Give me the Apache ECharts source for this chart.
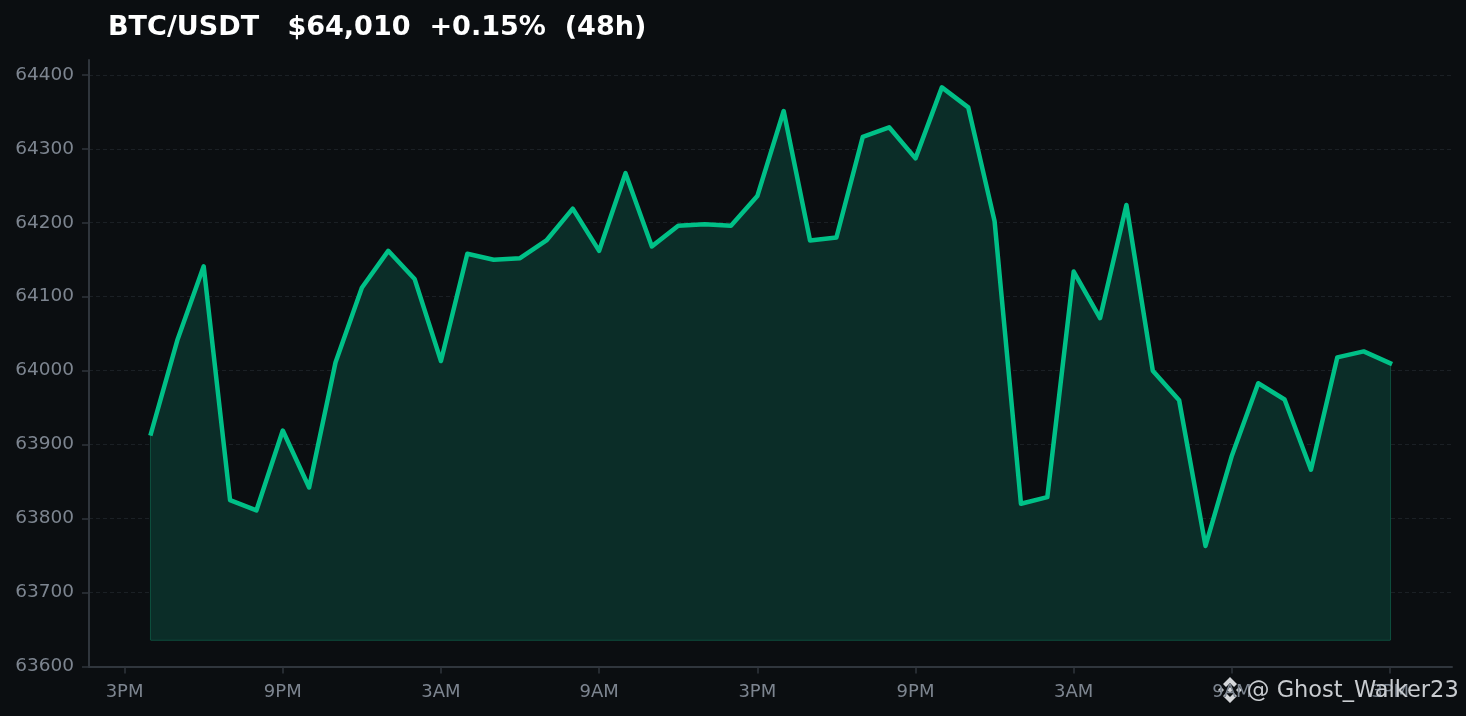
<!DOCTYPE html>
<html><head><meta charset="utf-8">
<style>html,body{margin:0;padding:0;background:#0b0e11}#c{width:1466px;height:716px}</style>
<script src="https://cdn.jsdelivr.net/npm/echarts@6/dist/echarts.min.js"></script>
</head><body><div id="c"></div>
<script>
const hours = [1,2,3,4,5,6,7,8,9,10,11,12,13,14,15,16,17,18,19,20,21,22,23,24,25,26,27,28,29,30,31,32,33,34,35,36,37,38,39,40,41,42,43,44,45,46,47,48];
const prices = [63915,64041,64141,63825,63811,63919,63842,64011,64112,64162,64124,64013,64158,64150,64152,64176,64219,64162,64267,64168,64196,64198,64196,64236,64351,64176,64180,64316,64329,64287,64383,64356,64202,63820,63829,64134,64071,64224,64000,63960,63763,63885,63983,63961,63866,64018,64026,64010];
const baseline = 63636;
const xTickValues = [0,6,12,18,24,30,36,42,48];
const xTickLabels = ['3PM','9PM','3AM','9AM','3PM','9PM','3AM','9AM','3PM'];
const yTickValues = [63600,63700,63800,63900,64000,64100,64200,64300,64400];
const titleText = 'BTC/USDT   $64,010  +0.15%  (48h)';
const watermark = '@ Ghost_Walker23';

const font = 'DejaVu Sans';
const axisCol = '#30363d', labelCol = '#7d8590';
const chart = echarts.init(document.getElementById('c'), null, {renderer:'canvas'});
chart.setOption({
  animation:false,
  backgroundColor:'#0b0e11',
  title:{text:titleText,left:108,top:14,padding:0,textStyle:{color:'#ffffff',fontFamily:font,fontWeight:'bold',fontSize:27.05}},
  grid:{left:89,right:14,top:60,bottom:49.5},
  xAxis:{type:'value',min:-1.35,max:50.35,
    axisLine:{show:true,lineStyle:{color:axisCol,width:2}},
    axisTick:{show:true,length:7,customValues:xTickValues,lineStyle:{color:axisCol,width:1.5}},
    axisLabel:{customValues:xTickValues,margin:17,color:labelCol,fontFamily:font,fontSize:18,
      formatter:(v)=>xTickLabels[xTickValues.indexOf(v)]||''},
    splitLine:{show:false}},
  yAxis:{type:'value',min:63600,max:64420,
    axisLine:{show:true,onZero:false,lineStyle:{color:axisCol,width:2}},
    axisTick:{show:true,length:7,customValues:yTickValues,lineStyle:{color:axisCol,width:1.5}},
    axisLabel:{customValues:yTickValues,margin:15,color:labelCol,fontFamily:font,fontSize:18.5,padding:[8,0,0,0],formatter:(v)=>String(v)},
    splitLine:{show:true,customValues:yTickValues,showMinLine:false,showMaxLine:true,lineStyle:{color:'#1b2025',type:[4,3],width:1}}},
  series:[
    {type:'line',z:6,symbol:'none',silent:true,
     data:[[hours[0],prices[0]],[hours[0],baseline],[hours[47],baseline],[hours[47],prices[47]]],
     lineStyle:{color:'#0e4f3e',width:2}},
    {type:'line',z:7,symbol:'none',
     data:hours.map((h,i)=>[h,prices[i]]),
     lineStyle:{color:'#00c087',width:4.5,join:'round',cap:'square'},
     areaStyle:{origin:baseline,color:'#0b2d28',opacity:1}}
  ],
  graphic:[
    {type:'text',z:100,left:1247,top:680,style:{text:watermark,fill:'#c9ccd0',font:'22.5px "DejaVu Sans"'}},
    {type:'group',z:100,left:1218,top:677,children:[
      {type:'polygon',shape:{points:[[12,0],[19,7],[16,10],[12,6],[8,10],[5,7]]},style:{fill:'#d5d7da'}},
      {type:'polygon',shape:{points:[[12,26],[19,19],[16,16],[12,20],[8,16],[5,19]]},style:{fill:'#d5d7da'}},
      {type:'polygon',shape:{points:[[3,10],[6,13],[3,16],[0,13]]},style:{fill:'#d5d7da'}},
      {type:'polygon',shape:{points:[[21,10],[24,13],[21,16],[18,13]]},style:{fill:'#d5d7da'}},
      {type:'polygon',shape:{points:[[12,10],[15,13],[12,16],[9,13]]},style:{fill:'#d5d7da'}}
    ]}
  ]
});
</script></body></html>
